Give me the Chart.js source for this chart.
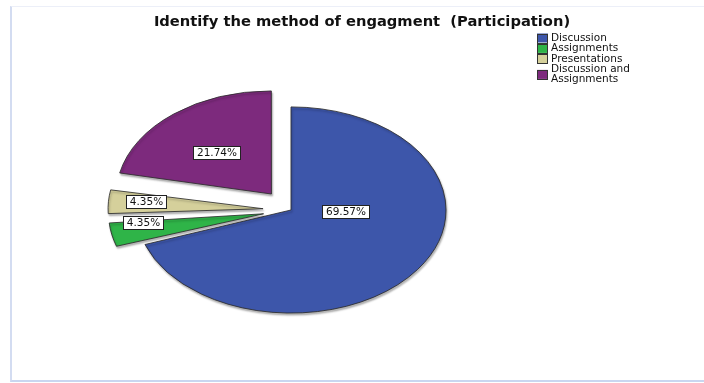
<!DOCTYPE html>
<html>
<head>
<meta charset="utf-8">
<script src="https://cdn.jsdelivr.net/npm/chart.js@4.4.1/dist/chart.umd.min.js"></script>
<style>
  html, body { margin: 0; padding: 0; background: #fff; overflow: hidden; }
  #frame {
    position: absolute; left: 10px; top: 6px; width: 800px; height: 373px;
    border-left: 2px solid #d3dcf1; border-top: 1px solid #eceff8; border-bottom: 2px solid #c9d6f0;
  }
  #wrap { position: absolute; left: 0; top: 0; width: 704px; height: 383px; }
</style>
</head>
<body>
<div id="frame"></div>
<div id="wrap"><canvas id="pieChart" width="704" height="383"></canvas></div>
<script>
// chart data
const categories = ["Discussion", "Assignments", "Presentations", "Discussion and Assignments"];
const percents = [69.57, 4.35, 4.35, 21.74];
const sliceColors = ["#3d56aa", "#2fb448", "#d5d09b", "#7d2a7d"];
const explode = [0, 28, 28, 31]; // how far each slice is pulled out, px

const titleText = "Identify the method of engagment  (Participation)";

// where each value box sits: [angle in degrees from 3 o'clock, fraction of radius]
const labelSpots = [[3, 0.35], [174, 0.78], [185, 0.76], [229, 0.54]];

const squash = 0.665; // pie is drawn as a flattened ellipse

const piePlugin = {
  id: "spssPie",
  // Chart.js also grows an offset arc's radius by offset/4 * (1 - sin(circumference)); undo that
  afterDatasetUpdate(chart, args) {
    args.meta.data.forEach((arc, i) => {
      const circ = arc.endAngle - arc.startAngle;
      const fix = 1 - Math.sin(Math.min(Math.PI, circ));
      arc.outerRadius -= explode[i] * fix;
    });
  },
  beforeDatasetsDraw(chart) {
    const ctx = chart.ctx;
    const cy = (chart.chartArea.top + chart.chartArea.bottom) / 2;
    ctx.save();
    ctx.translate(0, cy);
    ctx.scale(1, squash);
    ctx.translate(0, -cy);
    ctx.shadowColor = "rgba(0,0,0,0.3)";
    ctx.shadowBlur = 2;
    ctx.shadowOffsetX = 1;
    ctx.shadowOffsetY = 2;
  },
  afterDatasetsDraw(chart) {
    const ctx = chart.ctx;
    ctx.restore();
    const cy = (chart.chartArea.top + chart.chartArea.bottom) / 2;
    const meta = chart.getDatasetMeta(0);

    // title
    ctx.save();
    ctx.font = "bold 14.7px 'DejaVu Sans'";
    ctx.fillStyle = "#111";
    ctx.textAlign = "center";
    ctx.textBaseline = "middle";
    ctx.fillText(titleText, 362, 22);
    ctx.restore();

    // value boxes
    ctx.save();
    ctx.font = "10.5px 'DejaVu Sans'";
    ctx.textAlign = "center";
    ctx.textBaseline = "middle";
    meta.data.forEach((arc, i) => {
      const p = arc.getProps(["x", "y", "startAngle", "endAngle"], true);
      const mid = (p.startAngle + p.endAngle) / 2;
      const off = explode[i];
      const ang = labelSpots[i][0] * Math.PI / 180;
      const r = labelSpots[i][1] * meta.controller.outerRadius;
      const x = p.x + Math.cos(mid) * off + Math.cos(ang) * r;
      const yc = p.y + Math.sin(mid) * off + Math.sin(ang) * r;
      const y = cy + (yc - cy) * squash;
      const txt = percents[i].toFixed(2) + "%";
      const w = Math.round(ctx.measureText(txt).width + 7);
      const h = 13;
      const bx = Math.round(x - w / 2) + 0.5, by = Math.round(y - h / 2) + 0.5;
      ctx.fillStyle = "#fff";
      ctx.fillRect(bx, by, w, h);
      ctx.strokeStyle = "#222";
      ctx.lineWidth = 1;
      ctx.strokeRect(bx, by, w, h);
      ctx.fillStyle = "#111";
      ctx.fillText(txt, bx + w / 2, by + h / 2 + 0.5);
    });
    ctx.restore();

    // legend
    ctx.save();
    ctx.font = "10.5px 'DejaVu Sans'";
    ctx.textAlign = "left";
    ctx.textBaseline = "middle";
    const lx = 537, lineH = 10.4, maxW = 90;
    let ly = 38;
    categories.forEach((name, i) => {
      const words = name.split(" ");
      const lines = [];
      let cur = "";
      words.forEach(wd => {
        const test = cur ? cur + " " + wd : wd;
        if (ctx.measureText(test).width > maxW && cur) { lines.push(cur); cur = wd; }
        else cur = test;
      });
      lines.push(cur);
      const boxY = ly + (lines.length - 1) * lineH / 2;
      ctx.fillStyle = sliceColors[i];
      ctx.fillRect(lx, boxY - 4.5, 11, 9);
      ctx.strokeStyle = "#333";
      ctx.lineWidth = 1;
      ctx.strokeRect(lx + 0.5, Math.round(boxY - 4.5) + 0.5, 10, 9);
      ctx.fillStyle = "#111";
      lines.forEach((ln, k) => ctx.fillText(ln, lx + 14, ly + k * lineH));
      ly += lines.length * lineH;
    });
    ctx.restore();
  }
};

new Chart(document.getElementById("pieChart").getContext("2d"), {
  type: "pie",
  data: {
    labels: categories,
    datasets: [{
      data: percents,
      backgroundColor: sliceColors,
      borderColor: "#2a2a2a",
      borderWidth: 1,
      offset: explode.map(d => d * 4), // Chart.js shifts an arc by offset / 4
      radius: 155,
      clip: false
    }]
  },
  options: {
    responsive: false,
    animation: false,
    events: [],
    rotation: 0,
    layout: { padding: { left: 20, right: 142, top: 37, bottom: 0 } },
    plugins: {
      legend: { display: false },
      tooltip: { enabled: false },
      title: { display: false }
    }
  },
  plugins: [piePlugin]
});
</script>
</body>
</html>
